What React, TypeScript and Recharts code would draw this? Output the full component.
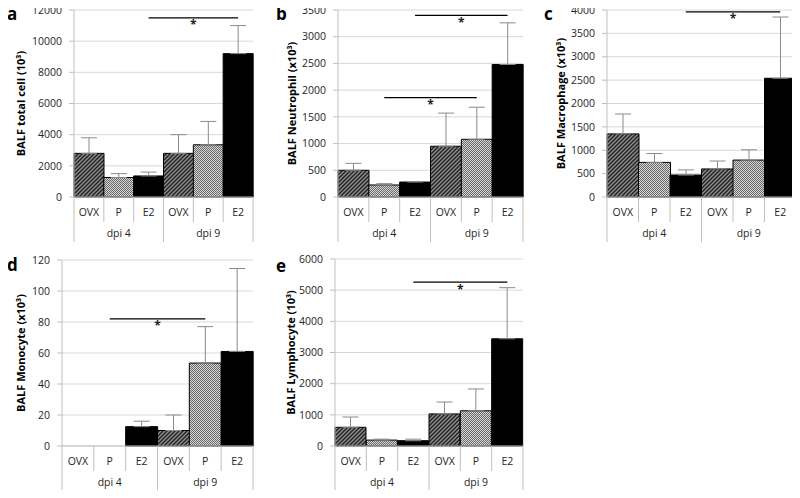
import React from "react";
import { BarChart, Bar, XAxis, YAxis, CartesianGrid, ErrorBar, Cell, ReferenceLine, Label } from "recharts";

const categories = ["OVX", "P", "E2", "OVX", "P", "E2"];
const groupLabels = ["dpi 4", "dpi 9"];
const keys = ["OVX-4", "P-4", "E2-4", "OVX-9", "P-9", "E2-9"];

const totalCell = [2800, 1250, 1350, 2800, 3350, 9200];
const totalCellErr = [1000, 250, 250, 1200, 1500, 1800];
const totalCellTicks = [0, 2000, 4000, 6000, 8000, 10000, 12000];

const neutrophil = [500, 225, 280, 950, 1080, 2480];
const neutrophilErr = [130, 25, 10, 620, 600, 780];
const neutrophilTicks = [0, 500, 1000, 1500, 2000, 2500, 3000, 3500];

const macrophage = [1350, 740, 470, 600, 790, 2540];
const macrophageErr = [425, 190, 110, 170, 220, 1310];
const macrophageTicks = [0, 500, 1000, 1500, 2000, 2500, 3000, 3500, 4000];

const monocyte = [0, 0, 12.5, 10, 53.5, 61];
const monocyteErr = [0, 0, 3.5, 10, 23.5, 53.5];
const monocyteTicks = [0, 20, 40, 60, 80, 100, 120];

const lymphocyte = [600, 190, 170, 1030, 1130, 3440];
const lymphocyteErr = [330, 30, 50, 380, 700, 1640];
const lymphocyteTicks = [0, 1000, 2000, 3000, 4000, 5000, 6000];

const FONT = "'Open Sans', sans-serif";
const axisGray = "#bfbfbf";
const gridGray = "#d9d9d9";
const textColor = "#262626";

type Sig = { from: number; to: number; y: number };

const CatTick = (props: any) => {
  const { x, index, band, base } = props;
  const left = x - band / 2;
  const right = x + band / 2;
  const groupStart = index % 3 === 0;
  return (
    <g>
      <line x1={left} x2={left} y1={base} y2={base + (groupStart ? 45 : 25)} stroke={axisGray} />
      {index === categories.length - 1 && (
        <line x1={right} x2={right} y1={base} y2={base + 45} stroke={axisGray} />
      )}
      <text x={x} y={base + 19} textAnchor="middle" fontSize={10.5} fill={textColor} fontFamily={FONT}>
        {categories[index]}
      </text>
      {index % 3 === 1 && (
        <text x={x} y={base + 40} textAnchor="middle" fontSize={10.5} fill={textColor} fontFamily={FONT}>
          {groupLabels[Math.floor(index / 3)]}
        </text>
      )}
    </g>
  );
};

type PanelProps = {
  id: string;
  letter: string;
  yLabel: string;
  values: number[];
  errs: number[];
  ticks: number[];
  sig: Sig[];
  left: number;
  top: number;
  width: number;
  height: number;
  plotLeft: number;
  plotRight: number;
  plotTop: number;
  plotBottom: number;
  labelX: number;
  letterX: number;
  letterY: number;
};

const Panel = (p: PanelProps) => {
  const yAxisWidth = 50;
  const rows = keys.map((k, i) => ({ key: k, value: p.values[i], err: [0, p.errs[i]] }));
  const band = (p.plotRight - p.plotLeft) / keys.length;
  const fills = [`url(#${p.id}-hatch)`, `url(#${p.id}-dots)`, "#000"];
  return (
    <div style={{ position: "absolute", left: p.left, top: p.top }}>
      <BarChart
        width={p.width}
        height={p.height}
        data={rows}
        barCategoryGap={0}
        margin={{ top: p.plotTop, right: p.width - p.plotRight, left: p.plotLeft - yAxisWidth, bottom: 0 }}
      >
        <defs>
          <pattern id={`${p.id}-hatch`} patternUnits="userSpaceOnUse" width={4} height={4}>
            <rect width={4} height={4} fill="#8e8e8e" />
            <path d="M-1,1 l2,-2 M0,4 l4,-4 M3,5 l2,-2" stroke="#242424" strokeWidth={1.5} />
          </pattern>
          <pattern id={`${p.id}-dots`} patternUnits="userSpaceOnUse" width={2} height={2}>
            <rect width={2} height={2} fill="#d6d6d6" />
            <rect width={1} height={1} fill="#6a6a6a" />
            <rect x={1} y={1} width={1} height={1} fill="#6a6a6a" />
          </pattern>
        </defs>
        <CartesianGrid vertical={false} stroke={gridGray} />
        <XAxis
          dataKey="key"
          type="category"
          interval={0}
          height={p.height - p.plotBottom}
          axisLine={{ stroke: axisGray }}
          tickLine={false}
          tick={(tp: any) => <CatTick {...tp} band={band} base={p.plotBottom} />}
        />
        <YAxis
          type="number"
          domain={[0, p.ticks[p.ticks.length - 1]]}
          ticks={p.ticks}
          interval={0}
          width={yAxisWidth}
          axisLine={{ stroke: axisGray }}
          tickLine={{ stroke: axisGray }}
          tickSize={5}
          tickMargin={7}
          tick={{ fontSize: 10.5, fill: textColor, fontFamily: FONT }}
        >
          <Label
            content={(lp: any) => {
              const vb = lp.viewBox;
              const cy = vb.y + vb.height / 2;
              return (
                <text
                  x={p.labelX}
                  y={cy}
                  transform={`rotate(-90 ${p.labelX} ${cy})`}
                  textAnchor="middle"
                  fontSize={11}
                  fontWeight="bold"
                  fill="#000"
                  fontFamily={FONT}
                >
                  {p.yLabel}
                </text>
              );
            }}
          />
          <Label
            content={() => (
              <text x={p.letterX} y={p.letterY} fontSize={17} fontWeight="bold" fill="#000" fontFamily={FONT}>
                {p.letter}
              </text>
            )}
          />
        </YAxis>
        <Bar dataKey="value" stroke="#000" strokeWidth={1} isAnimationActive={false}>
          {rows.map((r, i) => (
            <Cell key={r.key} fill={fills[i % 3]} />
          ))}
          <ErrorBar dataKey="err" width={8} stroke="#8a8a8a" strokeWidth={1} direction="y" />
        </Bar>
        {p.sig.map((s, i) => (
          <ReferenceLine
            key={i}
            segment={[
              { x: keys[s.from], y: s.y },
              { x: keys[s.to], y: s.y },
            ]}
            stroke="#000"
            strokeWidth={1.2}
            label={{ value: "*", position: "bottom", offset: 3, fontSize: 12, fontWeight: "bold", fill: "#222" }}
          />
        ))}
      </BarChart>
    </div>
  );
};

const App = () => {
  return (
    <div style={{ position: "relative", width: 800, height: 498, margin: -8, background: "#fff", fontFamily: FONT }}>
      <Panel
        id="a"
        letter="a"
        yLabel="BALF total cell (10³)"
        values={totalCell}
        errs={totalCellErr}
        ticks={totalCellTicks}
        sig={[{ from: 2, to: 5, y: 11500 }]}
        left={0}
        top={0}
        width={265}
        height={250}
        plotLeft={74}
        plotRight={253}
        plotTop={10}
        plotBottom={197}
        labelX={25}
        letterX={7}
        letterY={20}
      />
      <Panel
        id="b"
        letter="b"
        yLabel="BALF Neutrophil (x10³)"
        values={neutrophil}
        errs={neutrophilErr}
        ticks={neutrophilTicks}
        sig={[
          { from: 2, to: 5, y: 3400 },
          { from: 1, to: 4, y: 1860 },
        ]}
        left={265}
        top={0}
        width={265}
        height={250}
        plotLeft={73}
        plotRight={258}
        plotTop={10}
        plotBottom={197}
        labelX={31}
        letterX={11}
        letterY={20}
      />
      <Panel
        id="c"
        letter="c"
        yLabel="BALF Macrophage (x10³)"
        values={macrophage}
        errs={macrophageErr}
        ticks={macrophageTicks}
        sig={[{ from: 2, to: 5, y: 3960 }]}
        left={530}
        top={0}
        width={270}
        height={250}
        plotLeft={77}
        plotRight={266}
        plotTop={10}
        plotBottom={197}
        labelX={35}
        letterX={14}
        letterY={20}
      />
      <Panel
        id="d"
        letter="d"
        yLabel="BALF Monocyte (x10³)"
        values={monocyte}
        errs={monocyteErr}
        ticks={monocyteTicks}
        sig={[{ from: 1, to: 4, y: 82 }]}
        left={0}
        top={250}
        width={265}
        height={248}
        plotLeft={62}
        plotRight={253}
        plotTop={10}
        plotBottom={196}
        labelX={25}
        letterX={7}
        letterY={21}
      />
      <Panel
        id="e"
        letter="e"
        yLabel="BALF Lymphocyte (10³)"
        values={lymphocyte}
        errs={lymphocyteErr}
        ticks={lymphocyteTicks}
        sig={[{ from: 2, to: 5, y: 5260 }]}
        left={265}
        top={250}
        width={265}
        height={248}
        plotLeft={70}
        plotRight={258}
        plotTop={9}
        plotBottom={196}
        labelX={30}
        letterX={11}
        letterY={22}
      />
    </div>
  );
};

export default App;
